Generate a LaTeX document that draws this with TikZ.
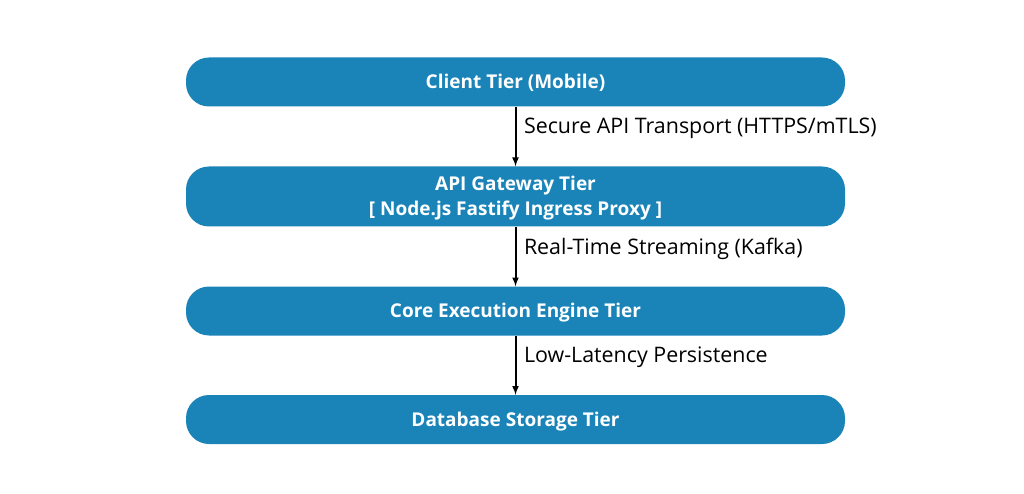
\documentclass[tikz,border=0pt]{standalone}
\usepackage{fontspec}
\setmainfont{Open Sans}
\usetikzlibrary{arrows}

\definecolor{tierblue}{RGB}{26,132,184}

\begin{document}
\begin{tikzpicture}[x=1pt,y=-1pt]
				\tikzstyle{tier}=[rectangle,rounded corners=23pt,fill=tierblue,text=white,font=\fontsize{19}{25.3}\selectfont\bfseries,minimum width=659pt,minimum height=49pt,inner sep=0pt,text height=13.6pt,text depth=0pt,align=center]
				\tikzstyle{link}=[-latex,line width=2pt]
				\tikzstyle{linklabel}=[anchor=base west,font=\fontsize{21.4}{26}\selectfont,inner sep=0pt]
				
				\useasboundingbox (0,0) rectangle (1024,494);
				
				\node[tier] (client) at (515.5,82) {Client Tier (Mobile)};
				\node[tier,minimum height=60pt,text height=38.9pt] (gateway) at (515.5,196.5) {API Gateway Tier\\{[} Node.js Fastify Ingress Proxy ]};
				\node[tier] (engine) at (515.5,311) {Core Execution Engine Tier};
				\node[tier] (storage) at (515.5,419.5) {Database Storage Tier};
				
				\draw[link] (client.south) -- (gateway.north) node[linklabel] at (523,133.3) {Secure API Transport (HTTPS/mTLS)};
				\draw[link] (gateway.south) -- (engine.north) node[linklabel] at (523,254.3) {Real-Time Streaming (Kafka)};
				\draw[link] (engine.south) -- (storage.north) node[linklabel] at (523,362.3) {Low-Latency Persistence};
				
				\end{tikzpicture}
\end{document}
